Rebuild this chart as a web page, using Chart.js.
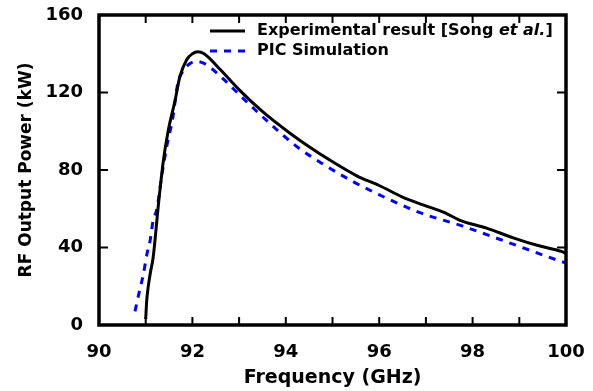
<!DOCTYPE html>
<html>
<head>
<meta charset="utf-8">
<script src="https://cdn.jsdelivr.net/npm/chart.js@4.4.0/dist/chart.umd.min.js"></script>
<style>
    body { margin: 0; background: #fff; }
</style>
</head>
<body>
<canvas id="rfChart" width="593" height="391"></canvas>
<script>
// measured curve (Song et al.)
const freqExp = [91.0, 91.02, 91.05, 91.1, 91.16, 91.28, 91.38, 91.48, 91.63, 91.73, 91.88, 92.0, 92.12, 92.25, 92.59, 93.02, 93.51, 94.09, 94.5, 94.95, 95.52, 96.0, 96.5, 96.94, 97.4, 97.73, 98.3, 98.87, 99.4, 99.9, 100];
const powerExp = [3, 12, 19, 27, 35, 64, 85, 100, 116, 128, 137, 140, 141, 140, 132, 121, 110, 99, 92, 85, 77, 72, 66, 62, 58, 54, 50, 45, 41, 38, 37];

// PIC simulation curve
const freqSim = [90.77, 90.88, 90.94, 91.03, 91.09, 91.16, 91.24, 91.35, 91.45, 91.58, 91.69, 91.8, 91.95, 92.1, 92.25, 92.38, 92.66, 93.17, 93.66, 94.24, 94.8, 95.44, 96.02, 96.87, 97.79, 98.95, 99.87, 100];
const powerSim = [7, 19, 25, 37, 43, 54, 60, 78, 92, 107, 125, 131, 135, 136, 135, 133, 127, 115, 104, 92, 83, 74, 67, 58, 51, 41, 33, 32];

const xTicks = [90, 92, 94, 96, 98, 100];
const yTicks = [0, 40, 80, 120, 160];

const FONT = "DejaVu Sans";

const toPoints = (xs, ys) => xs.map((x, i) => ({ x: x, y: ys[i] }));

// frame, inward ticks and legend
const framePlugin = {
    id: "frame",
    afterDraw(chart) {
        const ctx = chart.ctx;
        const { left, right, top, bottom } = chart.chartArea;
        const xs = chart.scales.x, ys = chart.scales.y;
        ctx.save();
        ctx.strokeStyle = "#000";
        ctx.lineWidth = 2;
        for (let v = 91; v < 100; v++) {
            const px = xs.getPixelForValue(v);
            ctx.beginPath();
            ctx.moveTo(px, bottom); ctx.lineTo(px, bottom - 8);
            ctx.moveTo(px, top); ctx.lineTo(px, top + 8);
            ctx.stroke();
        }
        yTicks.slice(1, -1).forEach(v => {
            const py = ys.getPixelForValue(v);
            ctx.beginPath();
            ctx.moveTo(left, py); ctx.lineTo(left + 9, py);
            ctx.moveTo(right, py); ctx.lineTo(right - 9, py);
            ctx.stroke();
        });
        ctx.lineWidth = 3.5;
        ctx.strokeRect(left, top, right - left, bottom - top);

        // legend
        const lx = 210, ly = [31, 51];
        ctx.lineWidth = 3;
        ctx.beginPath();
        ctx.moveTo(lx, ly[0]); ctx.lineTo(lx + 35, ly[0]);
        ctx.stroke();
        ctx.strokeStyle = "#0000ff";
        ctx.setLineDash([7, 7]);
        ctx.beginPath();
        ctx.moveTo(lx, ly[1]); ctx.lineTo(lx + 37, ly[1]);
        ctx.stroke();
        ctx.setLineDash([]);

        ctx.fillStyle = "#000";
        ctx.textBaseline = "middle";
        let tx = 257;
        const parts = [
            ["bold", "Experimental result [Song "],
            ["italic bold", "et al."],
            ["bold", "]"]
        ];
        parts.forEach(([st, s]) => {
            ctx.font = st + " 16px '" + FONT + "'";
            ctx.fillText(s, tx, ly[0]);
            tx += ctx.measureText(s).width;
        });
        ctx.font = "bold 16px '" + FONT + "'";
        ctx.fillText("PIC Simulation", 257, ly[1]);
        ctx.restore();
    }
};

new Chart(document.getElementById("rfChart"), {
    type: "line",
    data: {
        datasets: [
            {
                label: "Experimental result [Song et al.]",
                data: toPoints(freqExp, powerExp),
                borderColor: "#000",
                borderWidth: 3,
                pointRadius: 0,
                cubicInterpolationMode: "monotone",
                fill: false
            },
            {
                label: "PIC Simulation",
                data: toPoints(freqSim, powerSim),
                borderColor: "#0000ff",
                borderWidth: 3,
                borderDash: [7, 7],
                pointRadius: 0,
                cubicInterpolationMode: "monotone",
                fill: false
            }
        ]
    },
    options: {
        responsive: false,
        animation: false,
        layout: { padding: { top: 15, right: 27, left: 0, bottom: 0 } },
        plugins: { legend: { display: false }, tooltip: { enabled: false } },
        scales: {
            x: {
                type: "linear",
                min: 90, max: 100,
                grid: { display: false, drawTicks: false },
                border: { display: false },
                afterFit: s => { s.height = 66; s.paddingLeft = 0; s.paddingRight = 0; },
                ticks: {
                    stepSize: 1,
                    autoSkip: false,
                    maxRotation: 0,
                    padding: 17,
                    color: "#000",
                    font: { family: FONT, size: 18, weight: "bold" },
                    callback: v => xTicks.includes(v) ? v : ""
                },
                title: {
                    display: true,
                    text: "Frequency (GHz)",
                    color: "#000",
                    padding: { top: 0, bottom: 2 },
                    font: { family: FONT, size: 19, weight: "bold" }
                }
            },
            y: {
                min: 0, max: 160,
                grid: { display: false, drawTicks: false },
                border: { display: false },
                afterFit: s => { s.width = 99; s.paddingTop = 0; s.paddingBottom = 0; },
                ticks: {
                    stepSize: 40,
                    padding: 16,
                    color: "#000",
                    font: { family: FONT, size: 18, weight: "bold" }
                },
                title: {
                    display: true,
                    text: "RF Output Power (kW)",
                    color: "#000",
                    padding: { top: 16, bottom: 0 },
                    font: { family: FONT, size: 17, weight: "bold" }
                }
            }
        }
    },
    plugins: [framePlugin]
});
</script>
</body>
</html>
